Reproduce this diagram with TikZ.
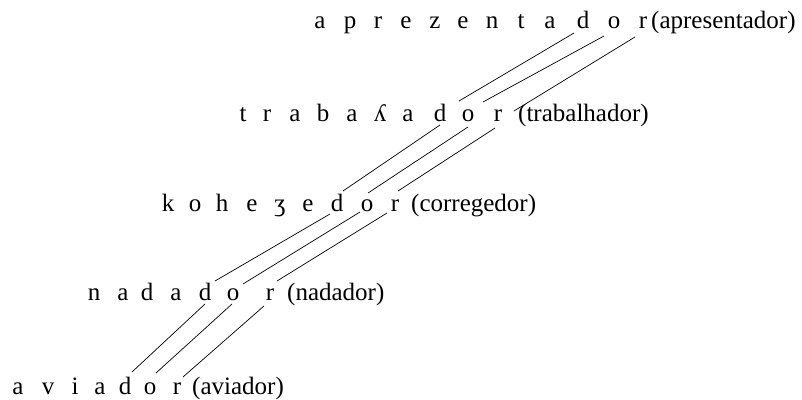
\documentclass[tikz,border=0pt]{standalone}
\usepackage{fontspec}
\setmainfont{Liberation Serif}
\usetikzlibrary{calc}
\begin{document}
\begin{tikzpicture}[x=1pt,y=1pt,
  ltr/.style={anchor=base,inner sep=0pt,font=\fontsize{25}{30}\selectfont},
  gloss/.style={anchor=base west,inner sep=0pt,font=\fontsize{25}{30}\selectfont},
  link/.style={line width=0.7pt}]
\useasboundingbox (0,0) rectangle (802,399);
% row 1
\foreach \n/\c/\x in {a1/a/320,a2/p/350,a3/r/378,a4/e/406,a5/z/435,a6/e/463,a7/n/492,a8/t/521,a9/a/550,d/d/583,o/o/614,r/r/643}
  \node[ltr] (r1\n) at (\x,370) {\c};
\node[gloss] (g1) at (651,370) {(apresentador)};
% row 2
\foreach \n/\c/\x in {a1/t/243,a2/r/267,a3/a/295,a4/b/323,a5/a/352,a6/ʎ/380,a7/a/408,d/d/440,o/o/468,r/r/498}
  \node[ltr] (r2\n) at (\x,277) {\c};
\node[gloss] (g2) at (518,277) {(trabalhador)};
% row 3
\foreach \n/\c/\x in {a1/k/168,a2/o/195,a3/h/222,a4/e/252,a5/ʒ/280,a6/e/308,d/d/337,o/o/367,r/r/395}
  \node[ltr] (r3\n) at (\x,187) {\c};
\node[gloss] (g3) at (411,187) {(corregedor)};
% row 4
\foreach \n/\c/\x in {a1/n/94,a2/a/123,a3/d/147,a4/a/176,d/d/205,o/o/233,r/r/270}
  \node[ltr] (r4\n) at (\x,99) {\c};
\node[gloss] (g4) at (287,99) {(nadador)};
% row 5
\foreach \n/\c/\x in {a1/a/18,a2/v/48,a3/i/75,a4/a/100,d/d/125,o/o/150,r/r/177}
  \node[ltr] (r5\n) at (\x,5) {\c};
\node[gloss] (g5) at (192,5) {(aviador)};
% links 1 -> 2
\draw[link] ($(r1d.base)+(-9,-4)$) -- ($(r2d.base)+(19,21)$);
\draw[link] ($(r1o.base)+(-10,-7)$) -- ($(r2o.base)+(15,20)$);
\draw[link] ($(r1r.base)+(-8,-8)$) -- ($(r2r.base)+(16,11)$);
% links 2 -> 3
\draw[link] ($(r2d.base)+(0,-3)$) -- ($(r3d.base)+(6,21)$);
\draw[link] ($(r2o.base)+(0,-5)$) -- ($(r3o.base)+(1,19)$);
\draw[link] ($(r2r.base)+(-3,-6)$) -- ($(r3r.base)+(3,21)$);
% links 3 -> 4
\draw[link] ($(r3d.base)+(-7,-2)$) -- ($(r4d.base)+(10,19)$);
\draw[link] ($(r3o.base)+(-7,0)$) -- ($(r4o.base)+(10,16)$);
\draw[link] ($(r3r.base)+(-8,-1)$) -- ($(r4r.base)+(7,19)$);
% links 4 -> 5
\draw[link] ($(r4d.base)+(0,-4)$) -- ($(r5d.base)+(7,22)$);
\draw[link] ($(r4o.base)+(-1,-4)$) -- ($(r5o.base)+(6,21)$);
\draw[link] ($(r4r.base)+(-6,-6)$) -- ($(r5r.base)+(6,17)$);
\end{tikzpicture}
\end{document}
